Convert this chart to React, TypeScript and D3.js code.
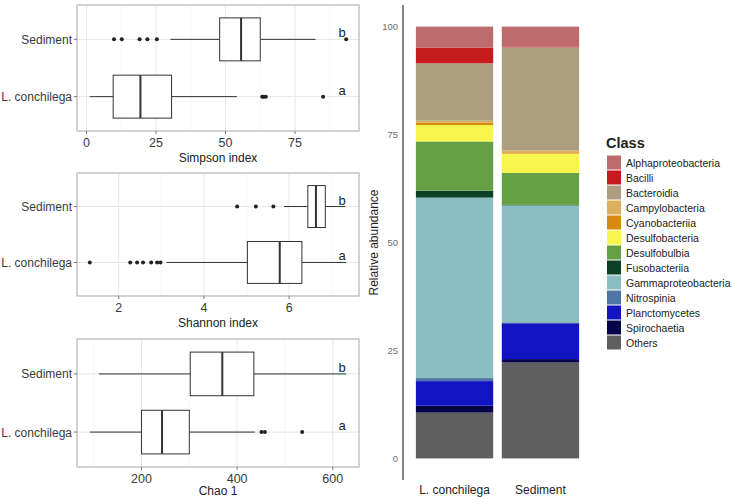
import React from "react";
import * as d3 from "d3";

const groups = ["Sediment", "L. conchilega"];

// [lower whisker, Q1, median, Q3, upper whisker]
const simpsonSediment = [30.2, 47.9, 55.6, 62.5, 82.4];
const simpsonConchilega = [1.2, 9.6, 19.4, 30.6, 54.1];
const simpsonOutSediment = [9.9, 12.7, 19.1, 21.9, 25.3, 93.4];
const simpsonOutConchilega = [63.2, 63.7, 64.5, 85.1];

const shannonSediment = [5.88, 6.44, 6.63, 6.85, 7.32];
const shannonConchilega = [3.12, 5.02, 5.78, 6.3, 7.34];
const shannonOutSediment = [4.78, 5.22, 5.63];
const shannonOutConchilega = [1.32, 2.27, 2.43, 2.57, 2.76, 2.9, 2.98];

const chaoSediment = [111, 302, 369, 435, 628];
const chaoConchilega = [92, 200, 243, 300, 437];
const chaoOutSediment: number[] = [];
const chaoOutConchilega = [451, 458, 536];

const sigLetters = ["b", "a"];

const simpsonTicks = [0, 25, 50, 75];
const shannonTicks = [2, 4, 6];
const chaoTicks = [200, 400, 600];

// relative abundance, legend order (top of stack first)
const classes = [
  "Alphaproteobacteria",
  "Bacilli",
  "Bacteroidia",
  "Campylobacteria",
  "Cyanobacteriia",
  "Desulfobacteria",
  "Desulfobulbia",
  "Fusobacteriia",
  "Gammaproteobacteria",
  "Nitrospinia",
  "Planctomycetes",
  "Spirochaetia",
  "Others",
];
const classColors = [
  "#bd6b6c",
  "#c41c1e",
  "#ad9e7f",
  "#dcb05f",
  "#d88b12",
  "#f8f64e",
  "#65a044",
  "#0a4023",
  "#8bbec3",
  "#4d76a6",
  "#1214c2",
  "#05064a",
  "#5f5f5f",
];
const conchilegaAbund = [4.9, 3.6, 13.3, 0.5, 0.5, 3.8, 11.4, 1.6, 41.8, 0.7, 5.7, 1.6, 10.6];
const sedimentAbund = [4.6, 0.2, 23.9, 0.4, 0.3, 4.5, 7.4, 0.1, 27.1, 0.2, 8.3, 0.8, 22.2];
const barGroups = ["L. conchilega", "Sediment"];
const abundTicks = [0, 25, 50, 75, 100];

const font = "Liberation Sans, Arial, sans-serif";

const panels = [
  {
    title: "Simpson index",
    top: 5,
    bottom: 131,
    stats: [simpsonSediment, simpsonConchilega],
    outs: [simpsonOutSediment, simpsonOutConchilega],
    ticks: simpsonTicks,
  },
  {
    title: "Shannon index",
    top: 173,
    bottom: 296,
    stats: [shannonSediment, shannonConchilega],
    outs: [shannonOutSediment, shannonOutConchilega],
    ticks: shannonTicks,
  },
  {
    title: "Chao 1",
    top: 339,
    bottom: 467,
    stats: [chaoSediment, chaoConchilega],
    outs: [chaoOutSediment, chaoOutConchilega],
    ticks: chaoTicks,
  },
];

const left = 77;
const right = 359;

const BoxPanel = ({ p }: { p: (typeof panels)[0] }) => {
  const all = [...p.stats.flat(), ...p.outs.flat()];
  const lo = d3.min(all) as number;
  const hi = d3.max(all) as number;
  const pad = (hi - lo) * 0.05;
  const x = d3.scaleLinear().domain([lo - pad, hi + pad]).range([left, right]);
  const y = d3.scalePoint().domain(groups).range([p.top, p.bottom]).padding(0.6);
  const half = (y.step() * 0.75) / 2;
  const step = p.ticks[1] - p.ticks[0];
  const minors = [p.ticks[0] - step / 2, ...p.ticks.map((t) => t + step / 2)].filter(
    (t) => t > lo - pad && t < hi + pad
  );

  return (
    <g>
      <rect x={left} y={p.top} width={right - left} height={p.bottom - p.top} fill="white" />
      {minors.map((t) => (
        <line key={"m" + t} x1={x(t)} x2={x(t)} y1={p.top} y2={p.bottom} stroke="#f2f2f2" strokeWidth={0.6} />
      ))}
      {p.ticks.map((t) => (
        <line key={"g" + t} x1={x(t)} x2={x(t)} y1={p.top} y2={p.bottom} stroke="#e6e6e6" strokeWidth={1} />
      ))}
      {groups.map((g) => (
        <line key={"h" + g} x1={left} x2={right} y1={y(g)} y2={y(g)} stroke="#e6e6e6" strokeWidth={1} />
      ))}
      {groups.map((g, i) => {
        const s = p.stats[i];
        const cy = y(g) as number;
        return (
          <g key={g} stroke="#333333" fill="none">
            <line x1={x(s[0])} x2={x(s[1])} y1={cy} y2={cy} strokeWidth={1} />
            <line x1={x(s[3])} x2={x(s[4])} y1={cy} y2={cy} strokeWidth={1} />
            <rect x={x(s[1])} y={cy - half} width={x(s[3]) - x(s[1])} height={half * 2} fill="white" strokeWidth={1} />
            <line x1={x(s[2])} x2={x(s[2])} y1={cy - half} y2={cy + half} strokeWidth={2} />
            {p.outs[i].map((v, k) => (
              <circle key={k} cx={x(v)} cy={cy} r={2} fill="#222222" stroke="none" />
            ))}
            <text
              x={342}
              y={cy - 2}
              fontSize={13}
              fontFamily={font}
              fill="#222222"
              stroke="none"
              textAnchor="middle"
            >
              {sigLetters[i]}
            </text>
          </g>
        );
      })}
      <rect x={left} y={p.top} width={right - left} height={p.bottom - p.top} fill="none" stroke="#a6a6a6" strokeWidth={1} />
      {p.ticks.map((t) => (
        <g key={"t" + t}>
          <line x1={x(t)} x2={x(t)} y1={p.bottom} y2={p.bottom + 3} stroke="#777777" />
          <text x={x(t)} y={p.bottom + 16} fontSize={12.5} fontFamily={font} fill="#3a3a3a" textAnchor="middle">
            {t}
          </text>
        </g>
      ))}
      {groups.map((g) => (
        <g key={"l" + g}>
          <line x1={left - 3} x2={left} y1={y(g)} y2={y(g)} stroke="#777777" />
          <text x={left - 5} y={(y(g) as number) + 4.5} fontSize={12} fontFamily={font} fill="#3a3a3a" textAnchor="end">
            {g}
          </text>
        </g>
      ))}
      <text
        x={(left + right) / 2}
        y={Math.min(p.bottom + 31, 495)}
        fontSize={12}
        fontFamily={font}
        fill="#222222"
        textAnchor="middle"
      >
        {p.title}
      </text>
    </g>
  );
};

const StackedBar = () => {
  const rows = barGroups.map((g) => {
    const vals = g === "Sediment" ? sedimentAbund : conchilegaAbund;
    const r: Record<string, any> = { group: g };
    classes.forEach((c, i) => (r[c] = vals[i]));
    return r;
  });
  const keys = classes.slice().reverse();
  const series = d3.stack().keys(keys)(rows as any);
  const y = d3.scaleLinear().domain([-5, 105]).range([480, 5]);
  const x = d3.scalePoint().domain(barGroups).range([403, 592]).padding(0.6);
  const bw = x.step() * 0.9;
  const color = d3.scaleOrdinal<string, string>().domain(classes).range(classColors);

  return (
    <g>
      {series.map((s) =>
        s.map((d, i) => (
          <rect
            key={s.key + i}
            x={(x(barGroups[i]) as number) - bw / 2}
            y={y(d[1])}
            width={bw}
            height={y(d[0]) - y(d[1])}
            fill={color(s.key)}
          />
        ))
      )}
      <line x1={403} x2={403} y1={5} y2={480} stroke="#333333" strokeWidth={1.2} />
      {abundTicks.map((t) => (
        <text key={t} x={398} y={y(t) + 3.5} fontSize={9.5} fontFamily={font} fill="#6e6e6e" textAnchor="end">
          {t}
        </text>
      ))}
      {barGroups.map((g) => (
        <text key={g} x={x(g)} y={494} fontSize={12} fontFamily={font} fill="#222222" textAnchor="middle">
          {g}
        </text>
      ))}
      <text
        transform={`translate(378,${y(50)}) rotate(-90)`}
        fontSize={12}
        fontFamily={font}
        fill="#222222"
        textAnchor="middle"
      >
        Relative abundance
      </text>
      <text x={606} y={148} fontSize={14.5} fontWeight="bold" fontFamily={font} fill="#222222">
        Class
      </text>
      {classes.map((c, i) => (
        <g key={c} transform={`translate(607,${155.5 + i * 15})`}>
          <rect width={14} height={14} fill={classColors[i]} />
          <text x={19} y={11} fontSize={10.5} fontFamily={font} fill="#222222">
            {c}
          </text>
        </g>
      ))}
    </g>
  );
};

export default function App() {
  return (
    <svg
      width={731}
      height={499}
      style={{ position: "absolute", left: 0, top: 0, background: "white" }}
    >
      <rect width={731} height={499} fill="white" />
      {panels.map((p) => (
        <BoxPanel key={p.title} p={p} />
      ))}
      <StackedBar />
    </svg>
  );
}
